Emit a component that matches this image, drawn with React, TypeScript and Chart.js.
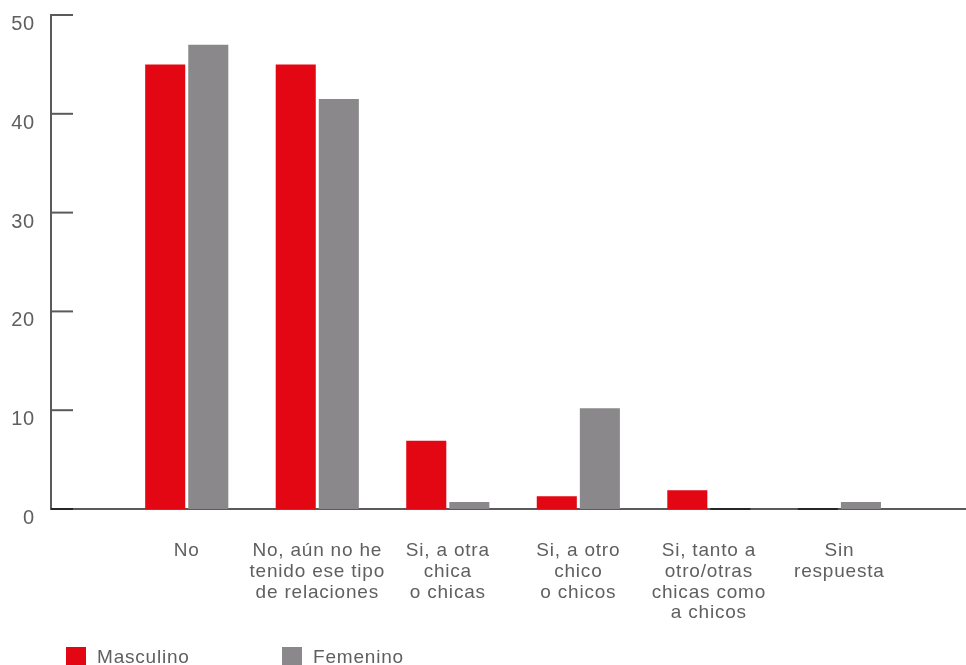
import React, { useEffect, useRef } from 'react';
import { Chart, registerables } from 'chart.js';

Chart.register(...registerables);

// ---- Data ----
const categories: string[][] = [
  ['No'],
  ['No, aún no he', 'tenido ese tipo', 'de relaciones'],
  ['Si, a otra', 'chica', 'o chicas'],
  ['Si, a otro', 'chico', 'o chicos'],
  ['Si, tanto a', 'otro/otras', 'chicas como', 'a chicos'],
  ['Sin', 'respuesta'],
];
const seriesNames = ['Masculino', 'Femenino'];
const masculino = [45, 45, 6.9, 1.3, 1.9, 0];
const femenino = [47, 41.5, 0.7, 10.2, 0, 0.7];
const yTickValues = [0, 10, 20, 30, 40, 50];

const RED = '#E30613';
const GRAY = '#8A888A';
const AXIS = '#5a5a5a';
const DARK = '#262626';
const TEXT = '#5f5f5f';
const FONT = '"Liberation Sans", Arial, Helvetica, sans-serif';

const textSpacing = {
  id: 'textSpacing',
  beforeDraw(chart: any) {
    try {
      (chart.ctx as any).letterSpacing = '0.8px';
    } catch (e) {
      /* ignore */
    }
  },
};

const axisDecor = {
  id: 'axisDecor',
  afterDatasetsDraw(chart: any) {
    const { ctx, chartArea, scales } = chart;
    const y = scales.y;
    const zeroY = y.getPixelForValue(0);
    ctx.save();
    ctx.lineWidth = 2;
    // zero-valued bars drawn as a dark line on the axis
    chart.data.datasets.forEach((ds: any, di: number) => {
      const meta = chart.getDatasetMeta(di);
      meta.data.forEach((el: any, i: number) => {
        if (ds.data[i].y === 0) {
          const p = el.getProps(['x', 'width'], true);
          ctx.strokeStyle = DARK;
          ctx.beginPath();
          ctx.moveTo(p.x - p.width / 2, zeroY);
          ctx.lineTo(p.x + p.width / 2, zeroY);
          ctx.stroke();
        }
      });
    });
    // inward tick marks on the y axis
    y.ticks.forEach((t: any) => {
      const py = y.getPixelForValue(t.value);
      ctx.strokeStyle = t.value === 0 ? DARK : AXIS;
      ctx.beginPath();
      ctx.moveTo(chartArea.left, py);
      ctx.lineTo(chartArea.left + 22, py);
      ctx.stroke();
    });
    ctx.restore();
  },
};

const bottomLegend = {
  id: 'bottomLegend',
  afterDraw(chart: any) {
    const ctx = chart.ctx;
    ctx.save();
    ctx.font = `19px ${FONT}`;
    ctx.textBaseline = 'alphabetic';
    ctx.textAlign = 'left';
    chart.data.datasets.forEach((ds: any, i: number) => {
      const x = 66 + i * 216;
      ctx.fillStyle = ds.backgroundColor;
      ctx.fillRect(x, 647, 20, 20);
      ctx.fillStyle = TEXT;
      ctx.fillText(ds.label, x + 31, 663);
    });
    ctx.restore();
  },
};

export default function App() {
  const canvasRef = useRef<HTMLCanvasElement | null>(null);

  useEffect(() => {
    document.body.style.margin = '0';
    document.body.style.overflow = 'hidden';
    const canvas = canvasRef.current;
    if (!canvas) return;

    const chart = new Chart(canvas, {
      type: 'bar',
      data: {
        datasets: [
          {
            label: seriesNames[0],
            data: masculino.map((v, i) => ({ x: i, y: v })),
            backgroundColor: RED,
            borderWidth: 0,
          },
          {
            label: seriesNames[1],
            data: femenino.map((v, i) => ({ x: i, y: v })),
            backgroundColor: GRAY,
            borderWidth: 0,
          },
        ],
      },
      options: {
        animation: false,
        responsive: true,
        maintainAspectRatio: false,
        layout: { padding: { top: 15, left: 0, right: 0, bottom: 0 } },
        datasets: {
          bar: { categoryPercentage: 0.66, barPercentage: 0.93 },
        },
        plugins: {
          legend: { display: false },
          tooltip: { enabled: false },
        },
        scales: {
          x: {
            type: 'linear',
            offset: false,
            min: -1.04,
            max: 5.97,
            grid: { display: false, drawTicks: false },
            border: { display: true, color: AXIS, width: 2 },
            afterBuildTicks: (scale: any) => {
              scale.ticks = categories.map((_, i) => ({ value: i }));
            },
            afterFit: (scale: any) => {
              scale.height = 156;
              scale.paddingLeft = 0;
              scale.paddingRight = 0;
            },
            ticks: {
              padding: 32,
              autoSkip: false,
              maxRotation: 0,
              color: TEXT,
              font: { family: FONT, size: 19, lineHeight: 1.08 },
              callback: (_v: any, index: number) => categories[index],
            },
          },
          y: {
            min: 0,
            max: 50,
            grid: { display: false, drawTicks: false },
            border: { display: true, color: AXIS, width: 2 },
            afterBuildTicks: (scale: any) => {
              scale.ticks = yTickValues.map((v) => ({ value: v }));
            },
            afterFit: (scale: any) => {
              scale.width = 51;
              scale.paddingTop = 0;
              scale.paddingBottom = 0;
            },
            ticks: {
              padding: 16,
              labelOffset: 9.5,
              color: TEXT,
              font: { family: FONT, size: 20 },
            },
          },
        },
      } as any,
      plugins: [textSpacing, axisDecor, bottomLegend],
    });

    return () => chart.destroy();
  }, []);

  return (
    <div style={{ width: 966, height: 665, position: 'relative' }}>
      <canvas ref={canvasRef} />
    </div>
  );
}
